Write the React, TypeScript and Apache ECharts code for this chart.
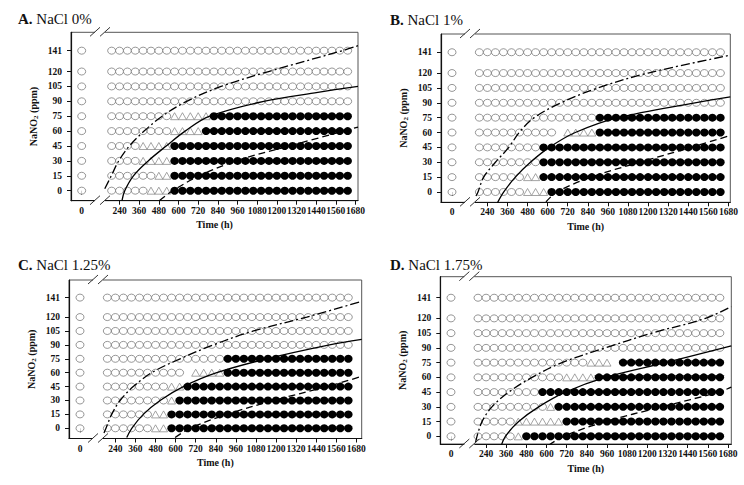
import React, { useEffect, useRef } from "react";
import * as echarts from "echarts";

const FONT = "'Liberation Serif', 'Times New Roman', serif";

// sampling times (h) after the axis break; plus the 0 h column before the break
const timesH = [192, 240, 288, 336, 384, 432, 480, 528, 576, 624, 672, 720, 768, 816, 864, 912, 960, 1008, 1056, 1104, 1152, 1200, 1248, 1296, 1344, 1392, 1440, 1488, 1536, 1584, 1632];
const startTime = 0;
const rowsPpm = [0, 15, 30, 45, 60, 75, 90, 105, 120, 141];
const xTickValues = [240, 360, 480, 600, 720, 840, 960, 1080, 1200, 1320, 1440, 1560, 1680];
const zeroTick = [0];
const panelLetters = ["A.", "B.", "C.", "D."];
const panelTitles = ["NaCl 0%", "NaCl 1%", "NaCl 1.25%", "NaCl 1.75%"];

// run-length states per row (o = no growth, t = growth in some, f = growth, - = no data)
type Run = [string, number];
const statesA: Run[][] = [
  [["o", 5], ["t", 3], ["f", 23]],
  [["o", 6], ["t", 2], ["f", 23]],
  [["o", 4], ["t", 4], ["f", 23]],
  [["o", 4], ["t", 4], ["f", 23]],
  [["o", 8], ["t", 4], ["f", 19]],
  [["o", 8], ["t", 5], ["f", 18]],
  [["o", 31]],
  [["o", 31]],
  [["o", 31]],
  [["o", 31]],
];
const statesB: Run[][] = [
  [["o", 6], ["t", 3], ["f", 22]],
  [["o", 6], ["t", 2], ["f", 23]],
  [["o", 8], ["f", 23]],
  [["o", 8], ["f", 23]],
  [["o", 10], ["-", 1], ["t", 4], ["f", 16]],
  [["o", 15], ["f", 16]],
  [["o", 31]],
  [["o", 31]],
  [["o", 31]],
  [["o", 31]],
];
const statesC: Run[][] = [
  [["o", 6], ["t", 2], ["f", 23]],
  [["o", 6], ["t", 2], ["f", 23]],
  [["o", 8], ["t", 1], ["f", 22]],
  [["o", 8], ["t", 2], ["f", 21]],
  [["o", 10], ["-", 1], ["t", 4], ["f", 16]],
  [["o", 15], ["f", 16]],
  [["o", 31]],
  [["o", 31]],
  [["o", 31]],
  [["o", 31]],
];
const statesD: Run[][] = [
  [["o", 5], ["t", 1], ["f", 25]],
  [["o", 5], ["t", 6], ["f", 20]],
  [["o", 9], ["t", 1], ["f", 21]],
  [["o", 8], ["f", 23]],
  [["o", 11], ["t", 4], ["f", 16]],
  [["o", 14], ["t", 3], ["-", 1], ["f", 13]],
  [["o", 31]],
  [["o", 31]],
  [["o", 31]],
  [["o", 31]],
];

// boundary curves [time h, NaNO2 ppm]
const dashDotA = [[150, 2], [190, 15], [235, 30], [300, 45], [390, 60], [500, 75], [650, 90], [860, 105], [1150, 120], [1600, 141], [1695, 146]];
const solidA = [[255, -10], [272, 0], [325, 15], [415, 30], [525, 45], [640, 60], [790, 75], [1120, 90], [1450, 99], [1695, 105]];
const dashedA = [[484, -10], [565, 0], [728, 15], [951, 30], [1277, 45], [1695, 64]];

const dashDotB = [[172, -4], [184, 0], [218, 15], [288, 30], [368, 45], [430, 60], [520, 75], [680, 90], [900, 105], [1200, 120], [1691, 138]];
const solidB = [[300, -11], [338, 0], [407, 15], [497, 30], [610, 45], [765, 60], [1020, 75], [1480, 90], [1691, 96]];
const dashedB = [[590, -10], [655, 0], [860, 15], [1150, 30], [1457, 45], [1691, 57]];

const dashDotC = [[172, -5], [184, 0], [218, 15], [268, 30], [347, 45], [457, 60], [627, 75], [826, 90], [1065, 105], [1384, 120], [1712, 137]];
const solidC = [[308, -10], [338, 0], [407, 15], [507, 30], [646, 45], [846, 60], [1145, 75], [1520, 90], [1712, 96]];
const dashedC = [[597, -10], [686, 0], [906, 15], [1185, 30], [1504, 45], [1712, 56]];

const dashDotD = [[178, -6], [186, 0], [216, 15], [275, 30], [375, 45], [514, 60], [692, 75], [950, 90], [1228, 105], [1546, 120], [1700, 132]];
const solidD = [[331, -9], [355, 0], [434, 15], [553, 30], [712, 45], [950, 60], [1307, 75], [1700, 92]];
const dashedD = [[613, -9], [702, 0], [950, 15], [1287, 30], [1624, 45], [1700, 50]];

const panelStates = [statesA, statesB, statesC, statesD];
const panelDashDot = [dashDotA, dashDotB, dashDotC, dashDotD];
const panelSolid = [solidA, solidB, solidC, solidD];
const panelDashed = [dashedA, dashedB, dashedC, dashedD];

// layout (pixels); x0 = pixel of the 0 h column (left of the axis break)
const layout = [
  { left: 71, top: 32.3, width: 287, height: 168.4, xMin: -56, xMax: 1695, yMin: -10.1, yMax: 159.5, x0: 81.7, tx: 13, ty: 6 },
  { left: 441, top: 34, width: 289.3, height: 168.3, xMin: -37, xMax: 1691, yMin: -10.4, yMax: 159.4, x0: 452, tx: 385, ty: 7 },
  { left: 69, top: 280, width: 292.7, height: 158.5, xMin: -37, xMax: 1712, yMin: -11, yMax: 160, x0: 80, tx: 13, ty: 252 },
  { left: 440.3, top: 276.7, width: 291, height: 167.3, xMin: -32.5, xMax: 1700, yMin: -7.8, yMax: 162.4, x0: 451, tx: 385, ty: 252 },
];

function expand(runs: Run[]): string[] {
  const out: string[] = [];
  runs.forEach(([s, n]) => {
    for (let i = 0; i < n; i++) out.push(s);
  });
  return out;
}

export default function App() {
  const ref = useRef<HTMLDivElement>(null);
  useEffect(() => {
    if (!ref.current) return;
    const chart = echarts.init(ref.current, null, { renderer: "svg" });

    const grids: any[] = [];
    const xAxes: any[] = [];
    const yAxes: any[] = [];
    const series: any[] = [];
    const titles: any[] = [];
    const graphics: any[] = [];
    const labelStyle = { fontFamily: FONT, fontWeight: "bold", fontSize: 9.5, color: "#111" };

    layout.forEach((L, i) => {
      grids.push({
        left: L.left, top: L.top, width: L.width, height: L.height,
        show: true, borderColor: "#555", borderWidth: 1, containLabel: false,
      });
      // main time axis (after the break)
      xAxes.push({
        gridIndex: i, type: "value", min: L.xMin, max: L.xMax,
        name: "Time (h)", nameLocation: "middle", nameGap: 19,
        nameTextStyle: { fontFamily: FONT, fontWeight: "bold", fontSize: 10, color: "#111" },
        axisLine: { show: true, onZero: false, lineStyle: { color: "#111", width: 1.2 } },
        axisTick: { show: true, length: 4, customValues: xTickValues, lineStyle: { color: "#111" } },
        axisLabel: { show: true, customValues: xTickValues, margin: 5, ...labelStyle, formatter: (v: number) => String(v) },
        splitLine: { show: false },
      });
      // segment before the break (0 h only)
      const s = L.width / (L.xMax - L.xMin);
      const zMin = -(L.x0 - L.left) / s;
      xAxes.push({
        gridIndex: i, type: "value", min: zMin, max: zMin + L.width / s, position: "bottom",
        axisLine: { show: false },
        axisTick: { show: true, length: 4, customValues: zeroTick, lineStyle: { color: "#111" } },
        axisLabel: { show: true, customValues: zeroTick, margin: 5, ...labelStyle, formatter: (v: number) => String(v) },
        splitLine: { show: false },
      });
      yAxes.push({
        gridIndex: i, type: "value", min: L.yMin, max: L.yMax,
        name: "NaNO{s|2} (ppm)", nameLocation: "middle", nameGap: 32, nameRotate: 90,
        nameTextStyle: {
          fontFamily: FONT, fontWeight: "bold", fontSize: 10, color: "#111", lineHeight: 12,
          rich: { s: { fontFamily: FONT, fontWeight: "bold", fontSize: 7, color: "#111", verticalAlign: "bottom", lineHeight: 12 } },
        },
        axisLine: { show: true, onZero: false, lineStyle: { color: "#111", width: 1.2 } },
        axisTick: { show: true, length: 4, customValues: rowsPpm, lineStyle: { color: "#111" } },
        axisLabel: { show: true, customValues: rowsPpm, margin: 9, ...labelStyle, formatter: (v: number) => String(v) },
        splitLine: { show: false },
      });

      const mainX = i * 2;
      const zeroX = i * 2 + 1;
      const zeroCol: number[][] = [];
      const open: number[][] = [];
      const tri: number[][] = [];
      const filled: number[][] = [];
      panelStates[i].forEach((runs, r) => {
        const y = rowsPpm[r];
        zeroCol.push([startTime, y]);
        expand(runs).forEach((st, k) => {
          const p = [timesH[k], y];
          if (st === "o") open.push(p);
          else if (st === "t") tri.push(p);
          else if (st === "f") filled.push(p);
        });
      });
      const openStyle = { color: "#fff", borderColor: "#6e6e6e", borderWidth: 0.9 };
      series.push({
        type: "scatter", xAxisIndex: zeroX, yAxisIndex: i, data: zeroCol, symbol: "circle", symbolSize: [8, 7],
        itemStyle: openStyle, silent: true, z: 2,
      });
      series.push({
        type: "scatter", xAxisIndex: mainX, yAxisIndex: i, data: open, symbol: "circle", symbolSize: [8, 7],
        itemStyle: openStyle, silent: true, z: 2,
      });
      series.push({
        type: "scatter", xAxisIndex: mainX, yAxisIndex: i, data: tri, symbol: "triangle", symbolSize: [8, 7],
        itemStyle: { color: "#fff", borderColor: "#808080", borderWidth: 0.9 }, silent: true, z: 2,
      });
      series.push({
        type: "scatter", xAxisIndex: mainX, yAxisIndex: i, data: filled, symbol: "circle", symbolSize: [8.5, 8],
        itemStyle: { color: "#000", opacity: 1 }, silent: true, z: 2,
      });
      const lineBase = { type: "line", xAxisIndex: mainX, yAxisIndex: i, smooth: 0.35, symbol: "none", showSymbol: false, silent: true, z: 5, clip: true };
      series.push({ ...lineBase, data: panelDashDot[i], lineStyle: { color: "#000", width: 1.3, type: [9, 3, 2, 3] } });
      series.push({ ...lineBase, data: panelSolid[i], lineStyle: { color: "#000", width: 1.3, type: "solid" } });
      series.push({ ...lineBase, data: panelDashed[i], lineStyle: { color: "#000", width: 1.3, type: [7, 4] } });

      titles.push({
        text: "{b|" + panelLetters[i] + "} " + panelTitles[i],
        left: L.tx, top: L.ty,
        textStyle: {
          fontFamily: FONT, fontSize: 15, fontWeight: "normal", color: "#111",
          rich: { b: { fontFamily: FONT, fontSize: 15, fontWeight: "bold", color: "#111" } },
        },
      });

      // axis-break marks (top border and bottom axis)
      [L.top, L.top + L.height].forEach((yy) => {
        graphics.push({ type: "rect", shape: { x: L.left + 24, y: yy - 2, width: 10, height: 4 }, style: { fill: "#fff" }, z: 100 });
        graphics.push({ type: "line", shape: { x1: L.left + 19, y1: yy + 4, x2: L.left + 29, y2: yy - 5 }, style: { stroke: "#333", lineWidth: 1 }, z: 101 });
        graphics.push({ type: "line", shape: { x1: L.left + 29, y1: yy + 4, x2: L.left + 39, y2: yy - 5 }, style: { stroke: "#333", lineWidth: 1 }, z: 101 });
      });
    });

    chart.setOption({
      animation: false,
      backgroundColor: "#fff",
      title: titles,
      grid: grids,
      xAxis: xAxes,
      yAxis: yAxes,
      series,
      graphic: graphics,
    });
    return () => chart.dispose();
  }, []);
  return <div ref={ref} style={{ position: "fixed", left: 0, top: 0, width: 744, height: 485, background: "#fff" }} />;
}
